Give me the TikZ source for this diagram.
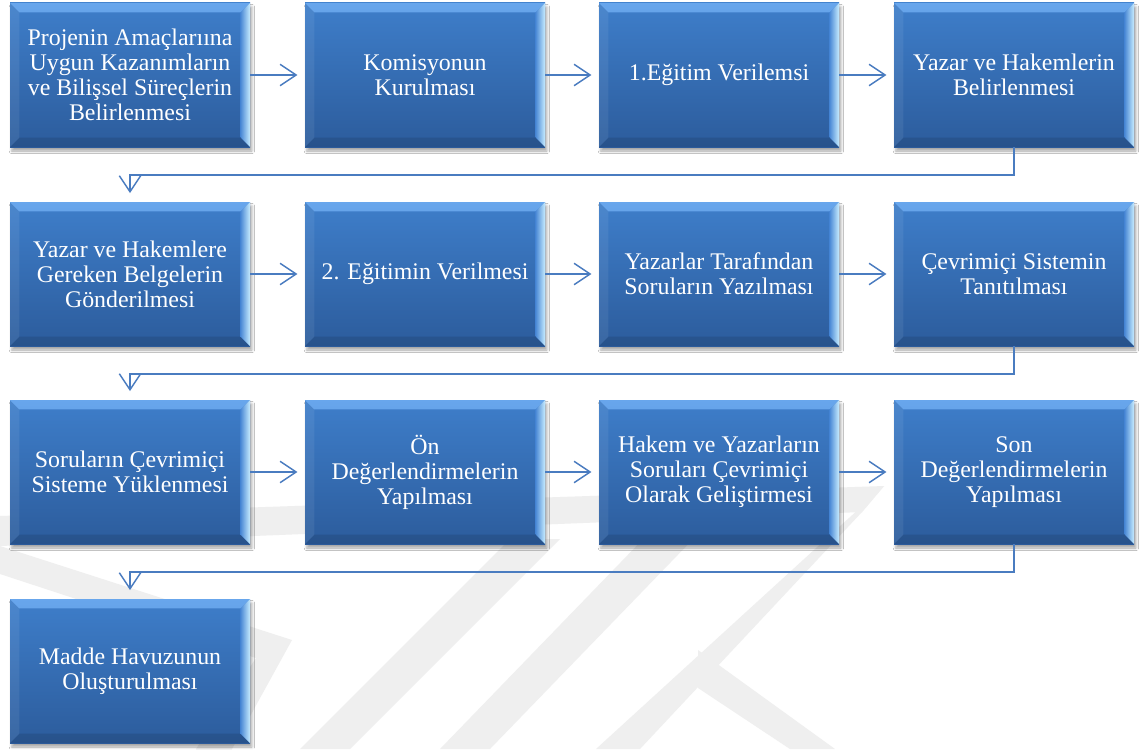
\documentclass[tikz,border=0pt]{standalone}
\usepackage{fontspec}
\setmainfont{Liberation Serif}
\usetikzlibrary{arrows.meta,shadows.blur}

\definecolor{boxtop}{HTML}{3E7ECA}
\definecolor{boxbot}{HTML}{2C5C9C}
\definecolor{bevedge}{HTML}{68A6EC}
\definecolor{bevrin}{HTML}{4C8AD6}
\definecolor{bevrout}{HTML}{C6ECFF}
\definecolor{flowblue}{HTML}{4A7CC0}
\definecolor{wmgray}{HTML}{EFEFEF}

\tikzset{
  stagebox/.style={
    minimum width=180pt, minimum height=108pt, inner sep=0pt,
    align=center, text=white,
    font=\fontsize{17.9}{18.8}\selectfont,
    top color=boxtop, bottom color=boxbot,
    blur shadow={shadow xshift=1.4pt, shadow yshift=-3pt,
                 shadow blur radius=2pt, shadow opacity=35},
    path picture={
      % top bevel
      \shade[top color=bevedge, bottom color=boxtop]
        (path picture bounding box.north west)
        -- (path picture bounding box.north east)
        -- ([xshift=-7pt,yshift=-7pt]path picture bounding box.north east)
        -- ([xshift=7pt,yshift=-7pt]path picture bounding box.north west)
        -- cycle;
      % left bevel
      \fill[white, fill opacity=0.07]
        (path picture bounding box.north west)
        -- ([xshift=7pt,yshift=-7pt]path picture bounding box.north west)
        -- ([xshift=7pt,yshift=7pt]path picture bounding box.south west)
        -- (path picture bounding box.south west) -- cycle;
      % bottom bevel
      \fill[black, fill opacity=0.1]
        (path picture bounding box.south west)
        -- ([xshift=7pt,yshift=7pt]path picture bounding box.south west)
        -- ([xshift=-7pt,yshift=7pt]path picture bounding box.south east)
        -- (path picture bounding box.south east) -- cycle;
      % right bevel
      \shade[left color=bevrin, right color=bevrout]
        (path picture bounding box.north east)
        -- ([xshift=-7pt,yshift=-7pt]path picture bounding box.north east)
        -- ([xshift=-7pt,yshift=7pt]path picture bounding box.south east)
        -- (path picture bounding box.south east) -- cycle;
    }
  },
  flow/.style={draw=flowblue, line width=1.1pt,
    -{Straight Barb[length=12pt,width=16pt]}, shorten >=5.5pt},
  wmark/.style={fill=wmgray, draw=none}
}

\begin{document}
\begin{tikzpicture}[x=0.75pt, y=-0.75pt]
  % page area
  \fill[white] (0,0) rectangle (1144,749);
  \useasboundingbox (0,0) rectangle (1144,749);

  % faint background emblem
  \fill[wmark] (0,516) -- (884,486) -- (862,512) -- (0,546) -- cycle;
  \fill[wmark] (884,486) -- (862,512) -- (640,749) -- (596,749) -- cycle;
  \fill[wmark] (0,546) -- (292,640) -- (232,749) -- (196,749) -- (256,658) -- (0,574) -- cycle;
  \fill[wmark] (300,749) -- (350,749) -- (560,539) -- (510,539) -- cycle;
  \fill[wmark] (440,749) -- (490,749) -- (700,532) -- (650,532) -- cycle;
  \fill[wmark] (698,650) -- (835,749) -- (790,749) -- (698,688) -- cycle;

  % process steps, row by row
  \node[stagebox] (b1)  at (130,75)  {Projenin Amaçlarıına\\Uygun Kazanımların\\ve Bilişsel Süreçlerin\\Belirlenmesi};
  \node[stagebox] (b2)  at (425,75)  {Komisyonun\\Kurulması};
  \node[stagebox] (b3)  at (719,75)  {1.Eğitim Verilemsi};
  \node[stagebox] (b4)  at (1014,75) {Yazar ve Hakemlerin\\Belirlenmesi};

  \node[stagebox] (b5)  at (130,274)  {Yazar ve Hakemlere\\Gereken Belgelerin\\Gönderilmesi};
  \node[stagebox] (b6)  at (425,274)  {2. Eğitimin Verilmesi};
  \node[stagebox] (b7)  at (719,274)  {Yazarlar Tarafından\\Soruların Yazılması};
  \node[stagebox] (b8)  at (1014,274) {Çevrimiçi Sistemin\\Tanıtılması};

  \node[stagebox] (b9)  at (130,472)  {Soruların Çevrimiçi\\Sisteme Yüklenmesi};
  \node[stagebox] (b10) at (425,472)  {Ön\\Değerlendirmelerin\\Yapılması};
  \node[stagebox] (b11) at (719,472)  {Hakem ve Yazarların\\Soruları Çevrimiçi\\Olarak Geliştirmesi};
  \node[stagebox] (b12) at (1014,472) {Son\\Değerlendirmelerin\\Yapılması};

  \node[stagebox] (b13) at (130,671)  {Madde Havuzunun\\Oluşturulması};

  % connectors within rows
  \draw[flow] (b1.east) -- (b2.west);
  \draw[flow] (b2.east) -- (b3.west);
  \draw[flow] (b3.east) -- (b4.west);
  \draw[flow] (b5.east) -- (b6.west);
  \draw[flow] (b6.east) -- (b7.west);
  \draw[flow] (b7.east) -- (b8.west);
  \draw[flow] (b9.east) -- (b10.west);
  \draw[flow] (b10.east) -- (b11.west);
  \draw[flow] (b11.east) -- (b12.west);

  % elbow connectors between rows
  \draw[flow, shorten >=6.5pt] (b4.south) -- ++(0,27.5) -| (b5.north);
  \draw[flow, shorten >=6.5pt] (b8.south) -- ++(0,27.5) -| (b9.north);
  \draw[flow, shorten >=6.5pt] (b12.south) -- ++(0,27.5) -| (b13.north);
\end{tikzpicture}
\end{document}
